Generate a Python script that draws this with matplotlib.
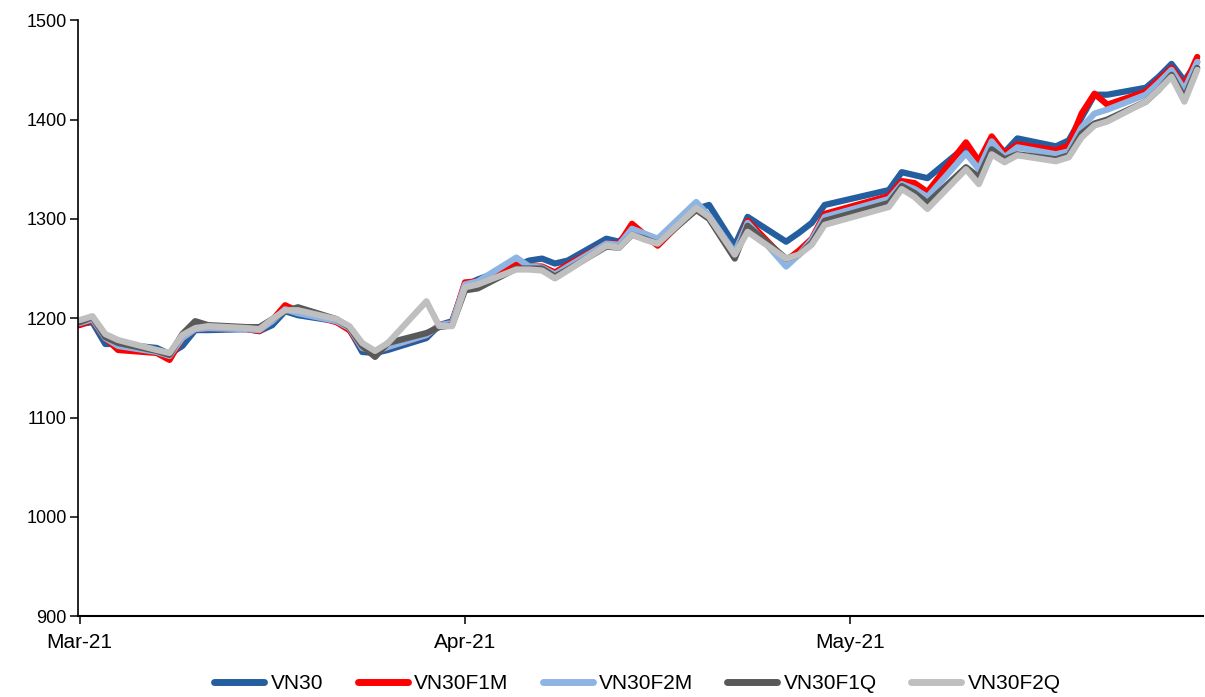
import matplotlib
matplotlib.use("Agg")
import matplotlib.pyplot as plt
import pandas as pd

plt.rcParams['font.family'] = ['Liberation Sans', 'DejaVu Sans']

# Trading days (Mar 2 - May 28, 2021)
mar_days = [2, 3, 4, 5, 8, 9, 10, 11, 12, 15, 16, 17, 18, 19, 22, 23, 24, 25, 26, 29, 30, 31]
apr_days = [1, 2, 5, 6, 7, 8, 9, 12, 13, 14, 15, 16, 19, 20, 22, 23, 26, 27, 28, 29]
may_days = [4, 5, 6, 7, 10, 11, 12, 13, 14, 17, 18, 19, 20, 21, 24, 25, 26, 27, 28]

vn30 = [1194, 1196, 1174, 1174, 1170, 1164, 1172, 1188, 1188, 1189, 1187, 1193, 1207, 1203, 1197, 1189, 1166, 1165, 1168, 1180, 1193, 1197,
        1233, 1239, 1253, 1258, 1260, 1255, 1258, 1280, 1277, 1290, 1284, 1278, 1310, 1314, 1273, 1302, 1277, 1286, 1296, 1314,
        1329, 1347, 1344, 1341, 1373, 1357, 1380, 1367, 1381, 1373, 1379, 1402, 1425, 1425, 1432, 1443, 1456, 1439, 1458]
vn30f1m = [1193, 1198, 1180, 1168, 1165, 1158, 1180, 1189, 1190, 1189, 1187, 1198, 1213, 1207, 1196, 1188, 1170, 1166, 1171, 1183, 1193, 1195,
           1236, 1237, 1254, 1252, 1252, 1246, 1254, 1275, 1275, 1295, 1284, 1273, 1312, 1302, 1265, 1298, 1258, 1268, 1280, 1305,
           1323, 1338, 1336, 1327, 1377, 1358, 1383, 1366, 1375, 1369, 1374, 1406, 1426, 1415, 1428, 1440, 1452, 1434, 1463]
vn30f2m = [1195, 1199, 1180, 1172, 1166, 1162, 1180, 1189, 1190, 1189, 1188, 1197, 1209, 1205, 1197, 1190, 1170, 1166, 1171, 1183, 1193, 1195,
           1234, 1237, 1261, 1252, 1251, 1244, 1252, 1275, 1274, 1290, 1285, 1280, 1317, 1303, 1266, 1296, 1252, 1264, 1279, 1302,
           1320, 1335, 1330, 1322, 1366, 1350, 1378, 1362, 1372, 1365, 1368, 1392, 1406, 1410, 1425, 1437, 1450, 1430, 1458]
vn30f1q = [1196, 1201, 1181, 1175, 1167, 1163, 1184, 1197, 1193, 1191, 1191, 1199, 1207, 1211, 1199, 1191, 1172, 1161, 1175, 1185, 1191, 1193,
           1228, 1230, 1250, 1250, 1250, 1242, 1249, 1272, 1271, 1284, 1280, 1275, 1309, 1300, 1260, 1293, 1260, 1264, 1276, 1298,
           1316, 1333, 1326, 1316, 1352, 1342, 1370, 1360, 1365, 1360, 1364, 1386, 1396, 1400, 1418, 1430, 1445, 1422, 1452]
vn30f2q = [1198, 1202, 1184, 1178, 1168, 1165, 1183, 1190, 1192, 1190, 1189, 1199, 1208, 1208, 1199, 1192, 1175, 1167, 1175, 1217, 1192, 1192,
           1231, 1234, 1249, 1249, 1248, 1240, 1248, 1273, 1271, 1284, 1279, 1275, 1311, 1302, 1264, 1287, 1260, 1264, 1274, 1294,
           1312, 1330, 1322, 1310, 1350, 1335, 1365, 1357, 1364, 1358, 1362, 1382, 1394, 1398, 1418, 1430, 1443, 1418, 1450]

series_names = ["VN30", "VN30F1M", "VN30F2M", "VN30F1Q", "VN30F2Q"]
series_colors = ["#255E9F", "#FF0000", "#8EB4E3", "#595959", "#BFBFBF"]

tick_dates = ["2021-03-02", "2021-04-01", "2021-05-01"]
tick_labels = ["Mar-21", "Apr-21", "May-21"]

dates = ([pd.Timestamp(2021, 3, d) for d in mar_days]
         + [pd.Timestamp(2021, 4, d) for d in apr_days]
         + [pd.Timestamp(2021, 5, d) for d in may_days])
df = pd.DataFrame({"VN30": vn30, "VN30F1M": vn30f1m, "VN30F2M": vn30f2m,
                   "VN30F1Q": vn30f1q, "VN30F2Q": vn30f2q}, index=dates)

fig = plt.figure(figsize=(12.05, 6.97), dpi=100)
ax = fig.add_axes([0.0647, 0.116, 0.9333, 0.855])

for name, color in zip(series_names, series_colors):
    ax.plot(df.index, df[name], color=color, lw=4.5, label=name,
            solid_joinstyle="round", solid_capstyle="round")

ax.set_ylim(900, 1500)
ax.set_yticks(range(900, 1501, 100))
ax.set_xlim(pd.Timestamp("2021-03-02") - pd.Timedelta(hours=3),
            pd.Timestamp("2021-05-28") + pd.Timedelta(hours=10))
ax.set_xticks([pd.Timestamp(t) for t in tick_dates])
ax.set_xticklabels(tick_labels)

for side in ("top", "right"):
    ax.spines[side].set_visible(False)
ax.spines["left"].set_linewidth(1.2)
ax.spines["bottom"].set_linewidth(1.5)
ax.tick_params(axis="both", direction="out", length=6, width=1.1,
               colors="black")
ax.tick_params(axis="y", labelsize=13, pad=2)
ax.tick_params(axis="x", labelsize=15, pad=6)

handles, labels = ax.get_legend_handles_labels()
leg = fig.legend(handles, labels, loc="center", bbox_to_anchor=(0.529, 0.019),
                 ncol=5, frameon=False, fontsize=15, handlelength=2.4,
                 handletextpad=0.3, columnspacing=1.65)
for line in leg.get_lines():
    line.set_linewidth(5)
    line.set_solid_capstyle("round")

fig.savefig("out.png", dpi=100)
